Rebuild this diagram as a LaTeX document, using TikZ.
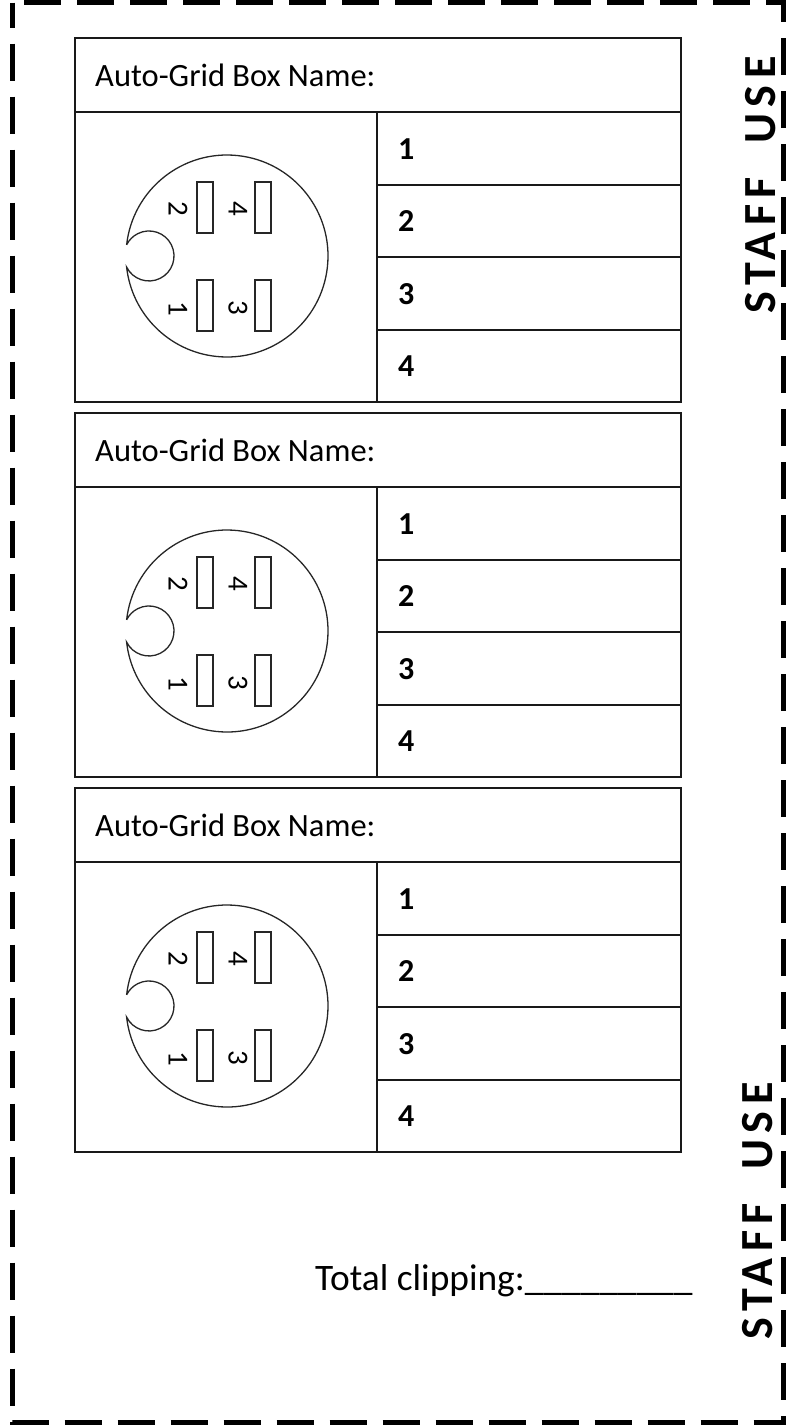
\documentclass[tikz,border=0pt]{standalone}
\usepackage{fontspec}
\setmainfont{Carlito}
\begin{document}
\begin{tikzpicture}[x=1pt,y=-1pt,
  frame/.style={line width=2pt, draw=black!90},
  conn/.style={line width=1.3pt, draw=black!85},
  border/.style={line width=5pt, draw=black, dash pattern=on 37pt off 16pt, dash phase=12pt},
  hdr/.style={anchor=base west, inner sep=0pt, font=\fontsize{32.5}{36}\selectfont},
  rowlbl/.style={anchor=base west, inner sep=0pt, font=\fontsize{32}{36}\selectfont\bfseries},
  pinlbl/.style={inner sep=0pt, rotate=-90, font=\fontsize{29}{30}\selectfont},
  staff/.style={anchor=base, inner sep=0pt, rotate=90, font=\fontsize{46}{50}\selectfont\bfseries\addfontfeature{LetterSpace=14}},
  total/.style={anchor=base west, inner sep=0pt, font=\fontsize{37.4}{40}\selectfont}]
\useasboundingbox (0,0) rectangle (793,1425);
% outer dashed border
\draw[border] (12.5,2.5) rectangle (783.5,1422.5);
% three boxes
\foreach \o/\k in {0/a,375/b,750/c}{
  \draw[frame] (75,38+\o) rectangle (681,402+\o);
  \draw[frame] (75,112+\o) -- (681,112+\o);
  \draw[frame] (377,112+\o) -- (377,402+\o);
  \draw[frame] (377,184.5+\o) -- (681,184.5+\o);
  \draw[frame] (377,257+\o) -- (681,257+\o);
  \draw[frame] (377,329.5+\o) -- (681,329.5+\o);
  \node[hdr] (hdr\k) at (95,86+\o) {Auto-Grid Box Name:};
  \node[rowlbl] (r1\k) at (398,159+\o) {1};
  \node[rowlbl] (r2\k) at (398,231.5+\o) {2};
  \node[rowlbl] (r3\k) at (398,304+\o) {3};
  \node[rowlbl] (r4\k) at (398,376.5+\o) {4};
  % connector outline with notch
  \draw[conn] ([shift={(227,256+\o)}]186.3:101)
     arc[start angle=186.3, end angle=533.7, radius=101]
     arc[start angle=153.6, end angle=-153.6, radius=25] -- cycle;
  % pins
  \draw[conn] (197,182+\o) rectangle (213,233+\o);
  \draw[conn] (255,182+\o) rectangle (271,233+\o);
  \draw[conn] (197,280+\o) rectangle (213,331+\o);
  \draw[conn] (255,280+\o) rectangle (271,331+\o);
  \node[pinlbl] (p2\k) at (178,209+\o) {2};
  \node[pinlbl] (p4\k) at (238,209+\o) {4};
  \node[pinlbl] (p1\k) at (178,309+\o) {1};
  \node[pinlbl] (p3\k) at (238,308+\o) {3};
}
\node[staff] (staff1) at (775,185) {STAFF\ \ USE};
\node[staff] (staff2) at (772,1211) {STAFF\ \ USE};
\node[total] (tot) at (315,1290) {Total clipping:\_\_\_\_\_\_\_\_\_};
\end{tikzpicture}
\end{document}
